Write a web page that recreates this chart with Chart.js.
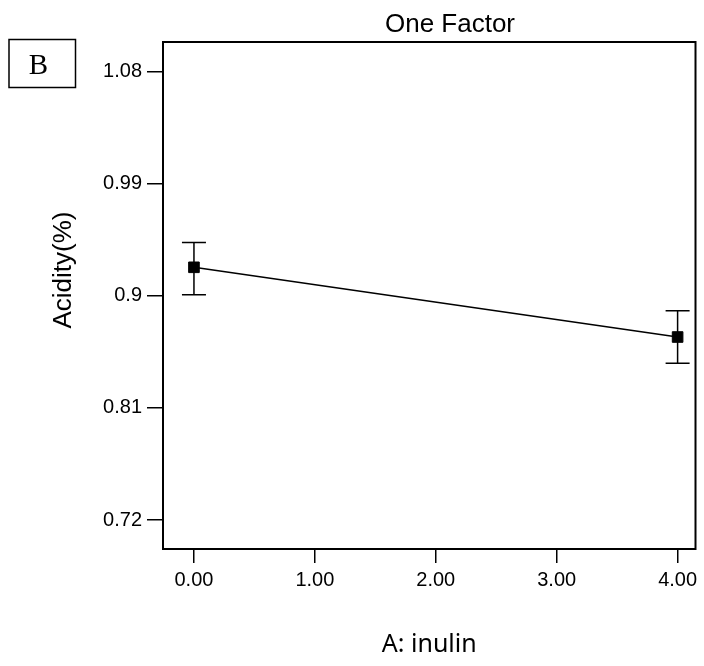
<!DOCTYPE html>
<html>
<head>
<meta charset="utf-8">
<script src="https://cdn.jsdelivr.net/npm/chart.js@4"></script>
<style>
  html, body { margin: 0; padding: 0; background: #fff; }
  #wrap { position: relative; width: 704px; height: 666px; }
</style>
</head>
<body>
<div id="wrap"><canvas id="chartFactor" width="704" height="666"></canvas></div>
<script>
// datos
const inulina = [0, 4];
const acidez = [0.923, 0.867];
const acidezMin = [0.901, 0.846];
const acidezMax = [0.943, 0.888];
const ticksY = [0.72, 0.81, 0.9, 0.99, 1.08];
const ticksX = [0, 1, 2, 3, 4];

const fuente = "'Liberation Sans', Arial, sans-serif";

// caja del area, barras de error, titulo y etiqueta B
const extras = {
    id: 'extras',
    afterDatasetsDraw(chart) {
        const { ctx, chartArea: a, scales: { x, y } } = chart;
        ctx.save();
        ctx.strokeStyle = '#000';
        ctx.lineWidth = 2;
        ctx.strokeRect(a.left, a.top, a.right - a.left, a.bottom - a.top);

        ctx.lineWidth = 1.5;
        inulina.forEach((v, i) => {
            const px = x.getPixelForValue(v);
            const yHi = y.getPixelForValue(acidezMax[i]);
            const yLo = y.getPixelForValue(acidezMin[i]);
            ctx.beginPath();
            ctx.moveTo(px, yHi); ctx.lineTo(px, yLo);
            ctx.moveTo(px - 12, yHi); ctx.lineTo(px + 12, yHi);
            ctx.moveTo(px - 12, yLo); ctx.lineTo(px + 12, yLo);
            ctx.stroke();
        });

        ctx.fillStyle = '#000';
        ctx.textAlign = 'center';
        ctx.textBaseline = 'middle';
        ctx.font = '26px ' + fuente;
        ctx.fillText('One Factor', 450, 25);

        ctx.save();
        ctx.translate(64, 270);
        ctx.rotate(-Math.PI / 2);
        ctx.fillText('Acidity(%)', 0, 0);
        ctx.restore();

        ctx.lineWidth = 1.5;
        ctx.strokeRect(9, 39.5, 66.5, 48);
        ctx.font = "29px 'Liberation Serif', 'Times New Roman', serif";
        ctx.fillText('B', 38.5, 66);
        ctx.restore();
    }
};

const ctx = document.getElementById("chartFactor").getContext("2d");
const chart = new Chart(ctx, {
    type: "scatter",
    data: {
        datasets: [{
            data: inulina.map((v, i) => ({ x: v, y: acidez[i] })),
            showLine: true,
            borderColor: "#000",
            borderWidth: 1.5,
            backgroundColor: "#000",
            pointStyle: "rect",
            pointRadius: 7.5,
            pointBorderWidth: 1,
            pointBorderColor: "#000",
            pointBackgroundColor: "#000"
        }]
    },
    options: {
        responsive: false,
        animation: false,
        layout: { padding: { top: 42, right: 7, left: 0, bottom: 0 } },
        plugins: { legend: { display: false }, tooltip: { enabled: false }, title: { display: false } },
        scales: {
            x: {
                type: "linear",
                min: -0.256, max: 4.148,
                afterBuildTicks: s => { s.ticks = ticksX.map(v => ({ value: v })); },
                afterFit: s => { s.height = 117; },
                grid: { drawOnChartArea: false, drawTicks: true, tickLength: 14, tickColor: "#000", lineWidth: 1.5 },
                border: { display: false },
                ticks: { color: "#000", padding: 5, font: { family: fuente, size: 20 }, callback: v => Number(v).toFixed(2), maxRotation: 0 },
                title: { display: true, text: "A: inulin", color: "#000", font: { family: "'Noto Sans', 'Open Sans', sans-serif", size: 25 }, padding: { top: 0, bottom: 6 } }
            },
            y: {
                type: "linear",
                min: 0.6967, max: 1.104,
                afterBuildTicks: s => { s.ticks = ticksY.map(v => ({ value: v })); },
                afterFit: s => { s.width = 163; },
                grid: { drawOnChartArea: false, drawTicks: true, tickLength: 16, tickColor: "#000", lineWidth: 1.5 },
                border: { display: false },
                ticks: { color: "#000", padding: 5, font: { family: fuente, size: 20 }, callback: v => String(Number(v.toFixed(2))) }
            }
        }
    },
    plugins: [extras]
});
</script>
</body>
</html>
